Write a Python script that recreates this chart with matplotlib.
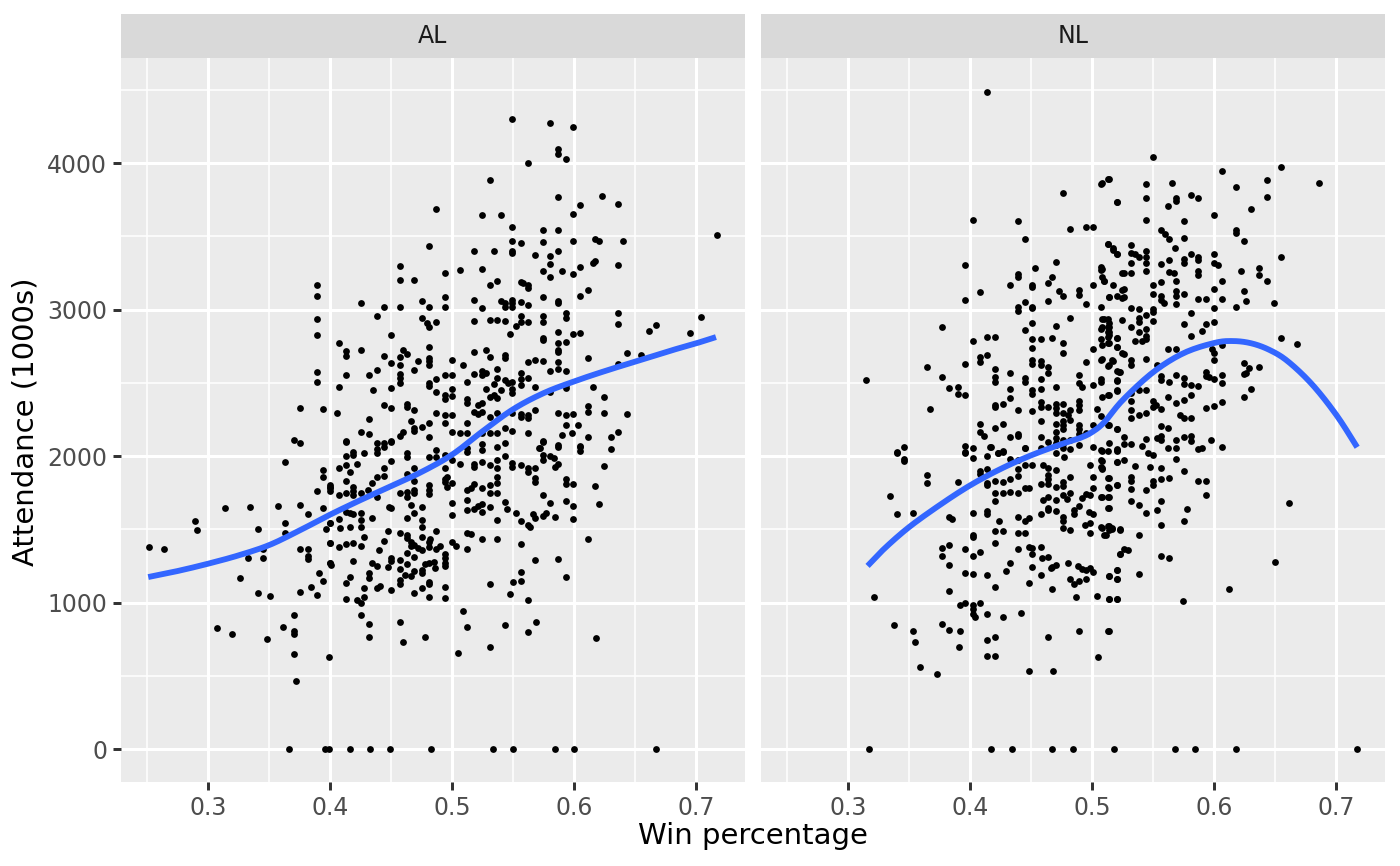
import numpy as np
import matplotlib
matplotlib.use('Agg')
import matplotlib.pyplot as plt

plt.rcParams['font.family'] = 'DejaVu Sans'

leagues = ['AL', 'NL']

# (win percentage, attendance in 1000s)
al_points = [
    (0.389, 3167), (0.389, 3092), (0.389, 2937), (0.389, 2826), (0.389, 2573), (0.389, 2505),
    (0.375, 2328), (0.394, 2321), (0.370, 2109), (0.375, 2089), (0.363, 1959), (0.394, 1904),
    (0.394, 1857), (0.389, 1761), (0.400, 1788), (0.400, 1761), (0.314, 1645), (0.334, 1652),
    (0.357, 1659), (0.375, 1666), (0.382, 1604), (0.394, 1645), (0.289, 1556), (0.291, 1495),
    (0.252, 1379), (0.264, 1365), (0.341, 1502), (0.363, 1543), (0.363, 1474), (0.397, 1502),
    (0.400, 1543), (0.400, 1406), (0.345, 1365), (0.333, 1304), (0.345, 1304), (0.375, 1365),
    (0.382, 1365), (0.382, 1317), (0.382, 1297), (0.400, 1270), (0.326, 1167), (0.391, 1201),
    (0.394, 1147), (0.384, 1106), (0.341, 1065), (0.351, 1044), (0.375, 1072), (0.389, 1051),
    (0.370, 915), (0.307, 826), (0.320, 785), (0.361, 833), (0.370, 805), (0.370, 785),
    (0.348, 751), (0.370, 648), (0.399, 628), (0.372, 464), (0.366, 0), (0.396, 0), (0.399, 0),
    # 0.40 - 0.57, upper half
    (0.549, 4298), (0.562, 4002), (0.531, 3884), (0.487, 3684), (0.524, 3645), (0.540, 3645),
    (0.549, 3566), (0.481, 3434), (0.518, 3402), (0.534, 3402), (0.549, 3465), (0.556, 3456),
    (0.549, 3402), (0.549, 3383), (0.568, 3374), (0.457, 3297), (0.457, 3201), (0.469, 3201),
    (0.494, 3249), (0.506, 3267), (0.524, 3279), (0.531, 3165), (0.537, 3192), (0.556, 3190),
    (0.558, 3179), (0.562, 3167), (0.562, 3145), (0.425, 3042), (0.444, 3017), (0.457, 3015),
    (0.475, 3060), (0.481, 3017), (0.494, 3083), (0.494, 3017), (0.518, 3063), (0.524, 3013),
    (0.540, 3056), (0.543, 3042), (0.543, 3020), (0.549, 3065), (0.549, 3042), (0.549, 3020),
    (0.556, 3054), (0.562, 3031), (0.438, 2954), (0.475, 2944), (0.479, 2910), (0.481, 2878),
    (0.487, 2917), (0.518, 2922), (0.531, 2928), (0.537, 2928), (0.543, 2924), (0.556, 2956),
    (0.556, 2917), (0.552, 2888), (0.562, 2915), (0.547, 2833), (0.450, 2828), (0.407, 2774),
    (0.413, 2719), (0.413, 2683), (0.425, 2724), (0.444, 2683), (0.450, 2637), (0.457, 2678),
    (0.457, 2619), (0.460, 2724), (0.463, 2694), (0.472, 2649), (0.481, 2742), (0.481, 2671),
    (0.481, 2649), (0.481, 2619), (0.500, 2658), (0.509, 2621), (0.518, 2712), (0.528, 2724),
    (0.531, 2678), (0.543, 2687), (0.543, 2667), (0.562, 2644), (0.568, 2653), (0.413, 2551),
    (0.432, 2551), (0.438, 2587), (0.457, 2560), (0.457, 2533), (0.457, 2501), (0.469, 2587),
    (0.481, 2501), (0.481, 2478), (0.487, 2524), (0.494, 2551), (0.500, 2553), (0.512, 2508),
    (0.518, 2560), (0.524, 2583), (0.524, 2556), (0.528, 2565), (0.537, 2596), (0.537, 2533),
    (0.534, 2492), (0.543, 2519), (0.546, 2496), (0.549, 2508), (0.556, 2565), (0.556, 2528),
    (0.556, 2483), (0.562, 2535), (0.568, 2474), (0.407, 2474), (0.435, 2451), (0.450, 2462),
    (0.487, 2437), (0.494, 2414), (0.494, 2387), (0.500, 2410), (0.500, 2460), (0.512, 2392),
    (0.512, 2364), (0.521, 2348), (0.524, 2360), (0.528, 2455), (0.531, 2405), (0.534, 2417),
    (0.537, 2398), (0.540, 2451), (0.549, 2460), (0.549, 2428), (0.406, 2296), (0.444, 2351),
    (0.450, 2326), (0.463, 2355), (0.463, 2337), (0.469, 2314), (0.487, 2292), (0.494, 2280),
    (0.500, 2280), (0.518, 2303), (0.521, 2287), (0.524, 2303), (0.531, 2269), (0.537, 2292),
    (0.549, 2296), (0.556, 2287), (0.556, 2269), (0.562, 2280), (0.562, 2258), (0.568, 2314),
    (0.432, 2250), (0.466, 2241), (0.481, 2228), (0.494, 2223), (0.512, 2223), (0.425, 2164),
    (0.432, 2150), (0.444, 2087), (0.450, 2105), (0.457, 2137), (0.460, 2166), (0.469, 2189),
    (0.469, 2173), (0.475, 2196), (0.481, 2132), (0.500, 2166), (0.506, 2159), (0.512, 2155),
    (0.524, 2155), (0.531, 2155), (0.537, 2155), (0.543, 2189), (0.549, 2168), (0.562, 2159),
    (0.413, 2105),
    # 0.40 - 0.57, lower half
    (0.413, 2098), (0.413, 2002), (0.419, 2029), (0.419, 2007), (0.428, 2023), (0.438, 2086),
    (0.438, 2045), (0.438, 2018), (0.444, 2059), (0.450, 2098), (0.450, 1968), (0.463, 2023),
    (0.463, 1995), (0.481, 1995), (0.487, 2041), (0.487, 1991), (0.494, 2007), (0.500, 1972),
    (0.506, 1945), (0.512, 2052), (0.512, 2029), (0.518, 1945), (0.518, 1927), (0.524, 2082),
    (0.524, 2041), (0.524, 1961), (0.531, 1938), (0.537, 2064), (0.537, 1973), (0.537, 1916),
    (0.543, 2086), (0.543, 2000), (0.549, 1950), (0.549, 1927), (0.556, 1938), (0.562, 1916),
    (0.562, 1893), (0.568, 1916), (0.568, 1847), (0.568, 1825), (0.571, 2052), (0.407, 1916),
    (0.413, 1938), (0.416, 1893), (0.422, 1945), (0.413, 1831), (0.413, 1750), (0.419, 1790),
    (0.419, 1763), (0.419, 1734), (0.425, 1750), (0.431, 1768), (0.434, 1818), (0.438, 1859),
    (0.438, 1722), (0.444, 1918), (0.444, 1863), (0.457, 1750), (0.463, 1877), (0.463, 1756),
    (0.463, 1722), (0.469, 1916), (0.469, 1831), (0.469, 1768), (0.469, 1745), (0.481, 1802),
    (0.481, 1768), (0.481, 1740), (0.494, 1916), (0.494, 1840), (0.494, 1825), (0.496, 1859),
    (0.496, 1790), (0.500, 1813), (0.500, 1677), (0.500, 1595), (0.400, 1802), (0.400, 1779),
    (0.407, 1734), (0.512, 1768), (0.515, 1779), (0.518, 1809), (0.524, 1779), (0.531, 1802),
    (0.531, 1745), (0.537, 1859), (0.537, 1818), (0.537, 1750), (0.543, 1688), (0.512, 1700),
    (0.512, 1631), (0.518, 1636), (0.521, 1659), (0.524, 1672), (0.524, 1620), (0.531, 1654),
    (0.545, 1638), (0.552, 1613), (0.537, 1563), (0.556, 1556), (0.566, 1604), (0.568, 1574),
    (0.562, 1529), (0.564, 1513), (0.400, 1540), (0.407, 1570), (0.413, 1620), (0.416, 1609),
    (0.419, 1604), (0.425, 1613), (0.425, 1563), (0.425, 1517), (0.408, 1506), (0.416, 1513),
    (0.434, 1579), (0.448, 1649), (0.450, 1643), (0.457, 1472), (0.463, 1574), (0.463, 1461),
    (0.463, 1438), (0.466, 1665), (0.469, 1609), (0.475, 1649), (0.475, 1563), (0.475, 1513),
    (0.475, 1445), (0.482, 1436), (0.487, 1490), (0.447, 1490), (0.428, 1445), (0.400, 1408),
    (0.407, 1381), (0.413, 1397), (0.419, 1404), (0.425, 1388), (0.444, 1420), (0.440, 1358),
    (0.466, 1415), (0.466, 1386), (0.469, 1392), (0.472, 1370), (0.475, 1358), (0.481, 1415),
    (0.481, 1381), (0.487, 1363), (0.490, 1386), (0.494, 1331), (0.494, 1301), (0.494, 1272),
    (0.494, 1249), (0.469, 1308), (0.463, 1336), (0.463, 1263), (0.457, 1290), (0.457, 1226),
    (0.450, 1301), (0.450, 1285), (0.447, 1240), (0.434, 1267), (0.438, 1249), (0.419, 1283),
    (0.400, 1267), (0.401, 1256), (0.478, 1263), (0.481, 1272), (0.485, 1279), (0.475, 1222),
    (0.475, 1204), (0.469, 1217), (0.466, 1181), (0.461, 1188), (0.457, 1154), (0.457, 1126),
    (0.486, 1233), (0.481, 1142), (0.481, 1126), (0.475, 1097), (0.469, 1067), (0.494, 1108),
    (0.494, 1028), (0.481, 1040), (0.450, 1085), (0.438, 1097), (0.441, 1113), (0.432, 1199),
    (0.432, 1165), (0.428, 1097), (0.428, 1040), (0.413, 1135), (0.416, 1176), (0.413, 1024),
    (0.422, 1017), (0.425, 994), (0.425, 917), (0.432, 853), (0.432, 762), (0.457, 865),
    (0.460, 728), (0.478, 762), (0.500, 1415), (0.503, 1386), (0.512, 1363), (0.512, 1477),
    (0.515, 1468), (0.524, 1431), (0.537, 1431), (0.531, 1126), (0.509, 942), (0.512, 835),
    (0.505, 658), (0.531, 694), (0.543, 844), (0.547, 1056), (0.550, 1142), (0.556, 1149),
    (0.556, 1210), (0.556, 1397), (0.562, 1017), (0.562, 799), (0.569, 869), (0.568, 1290),
    (0.416, 0), (0.433, 0), (0.449, 0), (0.483, 0), (0.533, 0), (0.550, 0),
    # 0.57 and up
    (0.580, 4271), (0.599, 4248), (0.587, 4093), (0.587, 4061), (0.593, 4030), (0.587, 3766),
    (0.623, 3775), (0.605, 3711), (0.636, 3720), (0.599, 3652), (0.574, 3543), (0.587, 3543),
    (0.574, 3459), (0.599, 3468), (0.617, 3484), (0.620, 3465), (0.640, 3465), (0.717, 3506),
    (0.580, 3365), (0.580, 3308), (0.580, 3224), (0.587, 3402), (0.574, 3265), (0.590, 3263),
    (0.599, 3240), (0.605, 3292), (0.615, 3315), (0.617, 3333), (0.636, 3304), (0.574, 3083),
    (0.587, 3058), (0.587, 3047), (0.605, 3095), (0.611, 3133), (0.574, 2956), (0.574, 2917),
    (0.593, 2974), (0.593, 2940), (0.636, 2978), (0.636, 2899), (0.661, 2856), (0.667, 2892),
    (0.695, 2842), (0.704, 2951), (0.587, 2849), (0.599, 2831), (0.605, 2838), (0.574, 2803),
    (0.574, 2792), (0.587, 2769), (0.587, 2724), (0.587, 2708), (0.593, 2778), (0.574, 2651),
    (0.587, 2640), (0.611, 2667), (0.643, 2706), (0.655, 2687), (0.636, 2628), (0.580, 2580),
    (0.587, 2596), (0.593, 2578), (0.593, 2485), (0.593, 2462), (0.580, 2439), (0.615, 2469),
    (0.624, 2401), (0.611, 2342), (0.611, 2303), (0.587, 2291), (0.593, 2282), (0.599, 2287),
    (0.624, 2291), (0.643, 2287), (0.593, 2214), (0.603, 2212), (0.590, 2146), (0.598, 2159),
    (0.611, 2130), (0.630, 2130), (0.636, 2166), (0.574, 2105), (0.587, 2075), (0.605, 2068),
    (0.574, 2098), (0.572, 2052), (0.574, 2007), (0.574, 1973), (0.580, 2000), (0.583, 1984),
    (0.584, 1922), (0.587, 2064), (0.587, 1945), (0.605, 2059), (0.605, 2036), (0.630, 2045),
    (0.624, 1932), (0.593, 1840), (0.593, 1809), (0.599, 1809), (0.617, 1795), (0.574, 1734),
    (0.580, 1677), (0.593, 1693), (0.599, 1659), (0.620, 1672), (0.574, 1590), (0.577, 1609),
    (0.584, 1586), (0.599, 1568), (0.611, 1436), (0.587, 1299), (0.593, 1174), (0.618, 755),
    (0.584, 0), (0.600, 0), (0.667, 0),
]

nl_points = [
    (0.414, 4485), (0.507, 3857), (0.514, 3889), (0.476, 3794), (0.520, 3732), (0.402, 3612),
    (0.439, 3602), (0.482, 3552), (0.495, 3566), (0.501, 3566), (0.445, 3482), (0.513, 3448),
    (0.517, 3407), (0.520, 3377), (0.396, 3304), (0.470, 3327), (0.453, 3282), (0.439, 3243),
    (0.439, 3220), (0.433, 3168), (0.451, 3168), (0.451, 3152), (0.464, 3179), (0.467, 3225),
    (0.507, 3293), (0.507, 3270), (0.501, 3170), (0.510, 3195), (0.524, 3252), (0.408, 3122),
    (0.396, 3063), (0.445, 3054), (0.439, 3015), (0.439, 2993), (0.451, 3020), (0.451, 3009),
    (0.464, 3061), (0.473, 3129), (0.476, 3093), (0.489, 3134), (0.489, 3100), (0.495, 3038),
    (0.507, 3020), (0.514, 3088), (0.520, 3093), (0.524, 3134), (0.524, 3077), (0.482, 2943),
    (0.451, 2911), (0.445, 2861), (0.470, 2890), (0.510, 2934), (0.514, 2906), (0.514, 2879),
    (0.514, 2849), (0.514, 2827), (0.520, 2804), (0.507, 2865), (0.507, 2797), (0.524, 2929),
    (0.377, 2881), (0.402, 2788), (0.414, 2811), (0.420, 2811), (0.451, 2797), (0.458, 2797),
    (0.467, 2804), (0.476, 2774), (0.476, 2706), (0.501, 2729), (0.514, 2774), (0.520, 2747),
    (0.524, 2702), (0.451, 2736), (0.408, 2679), (0.408, 2642), (0.414, 2692), (0.396, 2629),
    (0.365, 2606), (0.451, 2656), (0.451, 2629), (0.458, 2651), (0.458, 2620), (0.464, 2606),
    (0.464, 2570), (0.495, 2645), (0.507, 2656), (0.514, 2620), (0.517, 2651), (0.522, 2574),
    (0.420, 2597), (0.420, 2542), (0.420, 2506), (0.433, 2570), (0.445, 2531), (0.445, 2508),
    (0.458, 2529), (0.458, 2460), (0.470, 2474), (0.489, 2551), (0.489, 2501), (0.492, 2474),
    (0.501, 2483), (0.507, 2529), (0.507, 2506), (0.520, 2515), (0.520, 2451), (0.514, 2417),
    (0.315, 2517), (0.377, 2538), (0.383, 2463), (0.390, 2474), (0.390, 2424), (0.396, 2417),
    (0.367, 2319), (0.433, 2456), (0.433, 2394), (0.451, 2451), (0.451, 2424), (0.420, 2349),
    (0.420, 2333), (0.427, 2356), (0.439, 2315), (0.451, 2310), (0.458, 2372), (0.458, 2338),
    (0.464, 2333), (0.470, 2356), (0.470, 2326), (0.470, 2292), (0.476, 2356), (0.476, 2292),
    (0.482, 2315), (0.480, 2281), (0.489, 2379), (0.489, 2349), (0.489, 2315), (0.504, 2319),
    (0.507, 2274), (0.520, 2183), (0.513, 2210), (0.458, 2242), (0.470, 2219), (0.470, 2167),
    (0.476, 2242), (0.476, 2212), (0.476, 2183), (0.482, 2247), (0.489, 2212), (0.489, 2183),
    (0.489, 2151), (0.495, 2156), (0.501, 2212), (0.408, 2219), (0.408, 2167), (0.411, 2137),
    (0.420, 2190), (0.427, 2219), (0.433, 2128), (0.439, 2151), (0.439, 2137), (0.458, 2133),
    (0.470, 2121), (0.470, 2087), (0.476, 2110), (0.476, 2083), (0.482, 2110), (0.464, 2098),
    (0.501, 2064), (0.507, 2042), (0.514, 2087), (0.520, 2046), (0.445, 2058), (0.396, 2069),
    (0.396, 2030), (0.402, 2053), (0.416, 2060), (0.427, 2037), (0.423, 2024), (0.340, 2026),
    (0.346, 2064), (0.346, 1978),
    # lower left block
    (0.340, 2023), (0.346, 1966), (0.396, 2023), (0.402, 1984), (0.417, 2059), (0.414, 2000),
    (0.423, 2018), (0.427, 2029), (0.408, 1900), (0.408, 1877), (0.414, 1909), (0.414, 1818),
    (0.414, 1800), (0.420, 1831), (0.427, 1822), (0.433, 1977), (0.439, 1972), (0.439, 1909),
    (0.445, 2054), (0.445, 1938), (0.451, 1938), (0.458, 2054), (0.460, 1938), (0.464, 1918),
    (0.470, 1904), (0.464, 1870), (0.464, 1840), (0.433, 1840), (0.439, 1863), (0.458, 1809),
    (0.464, 1809), (0.470, 1786), (0.476, 1825), (0.476, 1795), (0.482, 1854), (0.420, 1745),
    (0.427, 1745), (0.433, 1754), (0.439, 1745), (0.445, 1779), (0.448, 1779), (0.420, 1695),
    (0.470, 2075), (0.476, 2052), (0.482, 2045), (0.489, 2075), (0.477, 1995), (0.470, 2018),
    (0.498, 1938), (0.501, 1859), (0.501, 1779), (0.498, 1734), (0.507, 1972), (0.507, 1927),
    (0.508, 1909), (0.514, 1847), (0.520, 1802), (0.514, 1779), (0.520, 1957), (0.520, 2036),
    (0.514, 1722), (0.507, 1718), (0.514, 1643), (0.482, 1745), (0.492, 1711), (0.495, 1740),
    (0.489, 1659), (0.485, 1631), (0.485, 1604), (0.460, 1699), (0.464, 1722), (0.470, 1699),
    (0.476, 1734), (0.479, 1704), (0.464, 1643), (0.464, 1631), (0.470, 1627), (0.458, 1604),
    (0.497, 1620), (0.501, 1604), (0.498, 1540), (0.494, 1529), (0.498, 1477), (0.476, 1581),
    (0.476, 1558), (0.476, 1506), (0.482, 1495), (0.507, 1513), (0.514, 1522), (0.516, 1506),
    (0.514, 1495), (0.523, 1499), (0.511, 1461), (0.439, 1586), (0.445, 1558), (0.448, 1574),
    (0.420, 1488), (0.427, 1488), (0.439, 1477), (0.445, 1472), (0.424, 1556), (0.414, 1627),
    (0.414, 1604), (0.402, 1613), (0.390, 1825), (0.365, 1870), (0.365, 1813), (0.334, 1727),
    (0.340, 1604), (0.353, 1609), (0.383, 1581), (0.385, 1570), (0.402, 1461), (0.402, 1445),
    (0.396, 1363), (0.402, 1317), (0.408, 1347), (0.377, 1370), (0.377, 1320), (0.383, 1390),
    (0.383, 1254), (0.420, 1408), (0.439, 1365), (0.448, 1381), (0.451, 1370), (0.458, 1381),
    (0.451, 1329), (0.459, 1304), (0.464, 1308), (0.433, 1270), (0.429, 1213), (0.451, 1245),
    (0.466, 1233), (0.467, 1245), (0.470, 1256), (0.480, 1267), (0.488, 1249), (0.492, 1226),
    (0.495, 1222), (0.498, 1233), (0.501, 1206), (0.458, 1188), (0.448, 1131), (0.467, 1092),
    (0.482, 1163), (0.485, 1124), (0.489, 1149), (0.495, 1158), (0.487, 1040), (0.504, 1044),
    (0.514, 1181), (0.520, 1158), (0.520, 1222), (0.514, 1022), (0.520, 1022), (0.523, 1331),
    (0.396, 1204), (0.402, 1192), (0.414, 1188), (0.420, 1108), (0.383, 1081), (0.321, 1040),
    (0.392, 981), (0.396, 994), (0.402, 981), (0.402, 953), (0.402, 921), (0.404, 903),
    (0.408, 994), (0.414, 921), (0.427, 903), (0.442, 931), (0.338, 844), (0.353, 805),
    (0.355, 728), (0.377, 853), (0.383, 812), (0.392, 805), (0.391, 699), (0.414, 744),
    (0.420, 767), (0.414, 637), (0.420, 637), (0.359, 557), (0.373, 512), (0.448, 535),
    (0.468, 530), (0.464, 767), (0.489, 808), (0.514, 808), (0.505, 626),
    (0.317, 0), (0.417, 0), (0.434, 0), (0.467, 0), (0.484, 0), (0.518, 0),
    # right block
    (0.550, 4042), (0.606, 3943), (0.655, 3973), (0.513, 3891), (0.508, 3861), (0.544, 3856),
    (0.544, 3760), (0.544, 3609), (0.565, 3861), (0.520, 3732), (0.569, 3760), (0.569, 3740),
    (0.562, 3705), (0.581, 3784), (0.587, 3762), (0.618, 3836), (0.643, 3883), (0.643, 3765),
    (0.686, 3864), (0.630, 3683), (0.600, 3647), (0.575, 3601), (0.618, 3540), (0.618, 3521),
    (0.624, 3466), (0.655, 3362), (0.556, 3540), (0.560, 3513), (0.563, 3483), (0.575, 3491),
    (0.568, 3422), (0.513, 3450), (0.517, 3417), (0.520, 3376), (0.532, 3439), (0.532, 3389),
    (0.535, 3376), (0.538, 3362), (0.532, 3321), (0.532, 3252), (0.544, 3403), (0.544, 3357),
    (0.544, 3318), (0.544, 3263), (0.508, 3280), (0.508, 3225), (0.526, 3252), (0.556, 3313),
    (0.563, 3340), (0.563, 3258), (0.567, 3247), (0.575, 3346), (0.575, 3318), (0.581, 3376),
    (0.587, 3362), (0.587, 3335), (0.587, 3266), (0.587, 3236), (0.600, 3376), (0.600, 3321),
    (0.603, 3302), (0.622, 3266), (0.637, 3285), (0.637, 3233), (0.643, 3192), (0.624, 3129),
    (0.626, 3055), (0.649, 3047), (0.618, 3020), (0.606, 3198), (0.600, 3137), (0.606, 3074),
    (0.510, 3198), (0.517, 3170), (0.514, 3088), (0.526, 3137), (0.526, 3083), (0.550, 3170),
    (0.550, 3107), (0.556, 3187), (0.556, 3094), (0.556, 3066), (0.559, 3047), (0.569, 3198),
    (0.569, 3129), (0.569, 3094), (0.575, 3107), (0.569, 3039), (0.587, 3072), (0.593, 3072),
    (0.600, 3011), (0.600, 2918), (0.581, 2978), (0.593, 2902), (0.590, 2852), (0.581, 2819),
    (0.575, 2904), (0.550, 3006), (0.550, 2984), (0.550, 2924), (0.544, 2962), (0.544, 2869),
    (0.544, 2819), (0.544, 2800), (0.541, 2787), (0.538, 3006), (0.532, 3011), (0.538, 2945),
    (0.538, 2918), (0.538, 2847), (0.532, 2882), (0.535, 2787), (0.513, 2937), (0.513, 2882),
    (0.513, 2847), (0.513, 2814), (0.508, 2937), (0.508, 2882), (0.520, 2806), (0.520, 2745),
    (0.508, 2759), (0.513, 2773), (0.526, 2699), (0.508, 2663), (0.516, 2655), (0.513, 2617),
    (0.532, 2655), (0.532, 2622), (0.544, 2663), (0.553, 2622), (0.562, 2732), (0.569, 2732),
    (0.556, 2545), (0.556, 2518), (0.563, 2504), (0.575, 2534), (0.575, 2491), (0.569, 2551),
    (0.581, 2485), (0.593, 2573), (0.593, 2545), (0.596, 2540), (0.600, 2523), (0.600, 2704),
    (0.600, 2655), (0.598, 2732), (0.606, 2759), (0.606, 2554), (0.606, 2499), (0.624, 2636),
    (0.626, 2567), (0.624, 2562), (0.628, 2603), (0.637, 2606), (0.630, 2458), (0.624, 2400),
    (0.655, 2803), (0.668, 2767), (0.606, 2370), (0.600, 2343), (0.593, 2326), (0.587, 2479),
    (0.581, 2419), (0.581, 2260), (0.575, 2260), (0.572, 2277), (0.569, 2362), (0.575, 2381),
    (0.562, 2403), (0.556, 2321), (0.550, 2375), (0.552, 2348), (0.550, 2334), (0.538, 2452),
    (0.544, 2452), (0.532, 2430), (0.532, 2375), (0.532, 2315), (0.532, 2260), (0.538, 2277),
    (0.544, 2293), (0.508, 2403), (0.513, 2417), (0.520, 2444), (0.520, 2518), (0.520, 2581),
    (0.523, 2573), (0.514, 2211), (0.520, 2184), (0.526, 2129), (0.526, 2085), (0.532, 2079),
    (0.541, 2068), (0.544, 2115), (0.556, 2206), (0.562, 2189), (0.556, 2107), (0.553, 2123),
    (0.556, 2134), (0.569, 2107), (0.575, 2129), (0.581, 2134), (0.581, 2101), (0.562, 2057),
    (0.569, 2057), (0.587, 2046), (0.590, 2057), (0.597, 2107), (0.606, 2063), (0.508, 2033),
    (0.508, 1964), (0.508, 1915), (0.513, 2033), (0.520, 2041), (0.520, 1959), (0.526, 1975),
    (0.546, 2019), (0.550, 2005), (0.569, 1981), (0.535, 1931), (0.547, 1923), (0.556, 1915),
    (0.575, 1896), (0.532, 1860), (0.532, 1833), (0.532, 1778), (0.550, 1833), (0.550, 1805),
    (0.556, 1841), (0.563, 1849), (0.513, 1849), (0.513, 1786), (0.520, 1805), (0.513, 1723),
    (0.508, 1723), (0.544, 1767), (0.587, 1827), (0.593, 1833), (0.593, 1731), (0.532, 1690),
    (0.538, 1668), (0.544, 1613), (0.553, 1635), (0.556, 1690), (0.556, 1531), (0.513, 1646),
    (0.578, 1641), (0.575, 1559), (0.508, 1512), (0.513, 1520), (0.516, 1504), (0.523, 1498),
    (0.510, 1460), (0.538, 1460), (0.523, 1334), (0.526, 1367), (0.529, 1361), (0.556, 1320),
    (0.563, 1301), (0.514, 1183), (0.520, 1224), (0.520, 1158), (0.538, 1197), (0.514, 1027),
    (0.520, 1027), (0.574, 1010), (0.612, 1093), (0.650, 1274), (0.661, 1679), (0.513, 807),
    (0.568, 0), (0.584, 0), (0.618, 0), (0.717, 0),
]

# loess curves
al_smooth_win = [0.251, 0.275, 0.30, 0.325, 0.35, 0.375, 0.40, 0.425, 0.45, 0.475,
                 0.50, 0.525, 0.55, 0.575, 0.60, 0.625, 0.65, 0.675, 0.70, 0.716]
al_smooth_att = [1174, 1215, 1265, 1322, 1392, 1492, 1600, 1700, 1795, 1892,
                 2010, 2170, 2320, 2430, 2510, 2580, 2645, 2710, 2770, 2812]
nl_smooth_win = [0.316, 0.33, 0.35, 0.375, 0.40, 0.425, 0.45, 0.475, 0.49, 0.50, 0.51,
                 0.525, 0.55, 0.575, 0.60, 0.615, 0.63, 0.645, 0.66, 0.68, 0.70, 0.717]
nl_smooth_att = [1250, 1370, 1515, 1665, 1800, 1912, 2005, 2082, 2123, 2164, 2232,
                 2382, 2573, 2703, 2772, 2785, 2770, 2725, 2648, 2490, 2280, 2060]

x_ticks = [0.3, 0.4, 0.5, 0.6, 0.7]
x_minor = [0.25, 0.35, 0.45, 0.55, 0.65, 0.75]
y_ticks = [0, 1000, 2000, 3000, 4000]
y_minor = [500, 1500, 2500, 3500, 4500]


def smooth_line(xs, ys):
    # Catmull-Rom through the read-off curve points so the fit is not jagged
    pts = np.column_stack([xs, ys]).astype(float)
    pts = np.vstack([pts[0], pts, pts[-1]])
    out = []
    for i in range(1, len(pts) - 2):
        p0, p1, p2, p3 = pts[i - 1], pts[i], pts[i + 1], pts[i + 2]
        for t in np.linspace(0, 1, 10, endpoint=False):
            out.append(0.5 * (2 * p1 + (-p0 + p2) * t + (2 * p0 - 5 * p1 + 4 * p2 - p3) * t ** 2
                              + (-p0 + 3 * p1 - 3 * p2 + p3) * t ** 3))
    out.append(pts[-2])
    out = np.array(out)
    return out[:, 0], out[:, 1]


def main():
    fig = plt.figure(figsize=(7, 4.33), dpi=200)
    fig.patch.set_facecolor('white')
    W, H = 1400.0, 866.0
    panel_x = [121, 761]
    panel_w = 624
    top, bottom, strip_top = 58, 782, 14

    data = {'AL': (al_points, al_smooth_win, al_smooth_att),
            'NL': (nl_points, nl_smooth_win, nl_smooth_att)}

    for i, league in enumerate(leagues):
        pts, sw, sa = data[league]
        pts = np.array(pts, dtype=float)
        ax = fig.add_axes([panel_x[i] / W, 1 - bottom / H, panel_w / W, (bottom - top) / H])
        ax.set_facecolor('#EBEBEB')
        for s in ax.spines.values():
            s.set_visible(False)
        ax.set_xlim(0.2287, 0.7398)
        ax.set_ylim(-225, 4717)
        for v in x_minor:
            ax.axvline(v, color='white', lw=0.55, zorder=0)
        for v in y_minor:
            ax.axhline(v, color='white', lw=0.55, zorder=0)
        for v in x_ticks:
            ax.axvline(v, color='white', lw=1.1, zorder=0)
        for v in y_ticks:
            ax.axhline(v, color='white', lw=1.1, zorder=0)

        ax.scatter(pts[:, 0], pts[:, 1], s=6, color='black', linewidths=0, zorder=2)
        lx, ly = smooth_line(sw, sa)
        ax.plot(lx, ly, color='#3366FF', lw=2.1, solid_capstyle='butt', zorder=3)

        ax.set_xticks(x_ticks)
        ax.set_xticklabels([f'{v:g}' for v in x_ticks])
        ax.set_yticks(y_ticks)
        if i == 0:
            ax.set_yticklabels([str(v) for v in y_ticks])
            ax.tick_params(axis='y', length=2.75, width=1.07, color='#333333',
                           labelsize=8.5, labelcolor='#4D4D4D', pad=2.2)
        else:
            ax.tick_params(axis='y', length=0, labelleft=False)
        ax.tick_params(axis='x', length=2.75, width=1.07, color='#333333',
                       labelsize=8.5, labelcolor='#4D4D4D', pad=2.2)

        sax = fig.add_axes([panel_x[i] / W, 1 - top / H, panel_w / W, (top - strip_top) / H])
        sax.set_facecolor('#D9D9D9')
        sax.set_xticks([])
        sax.set_yticks([])
        for s in sax.spines.values():
            s.set_visible(False)
        sax.text(0.5, 0.5, league, ha='center', va='center', fontsize=8.5, color='#1A1A1A',
                 transform=sax.transAxes)

    fig.text(753 / W, 1 - 836 / H, 'Win percentage', ha='center', va='center', fontsize=10.5)
    fig.text(26 / W, 1 - 422 / H, 'Attendance (1000s)', ha='center', va='center',
             rotation=90, fontsize=10.5)

    fig.savefig('out.png', dpi=200)


if __name__ == '__main__':
    main()
